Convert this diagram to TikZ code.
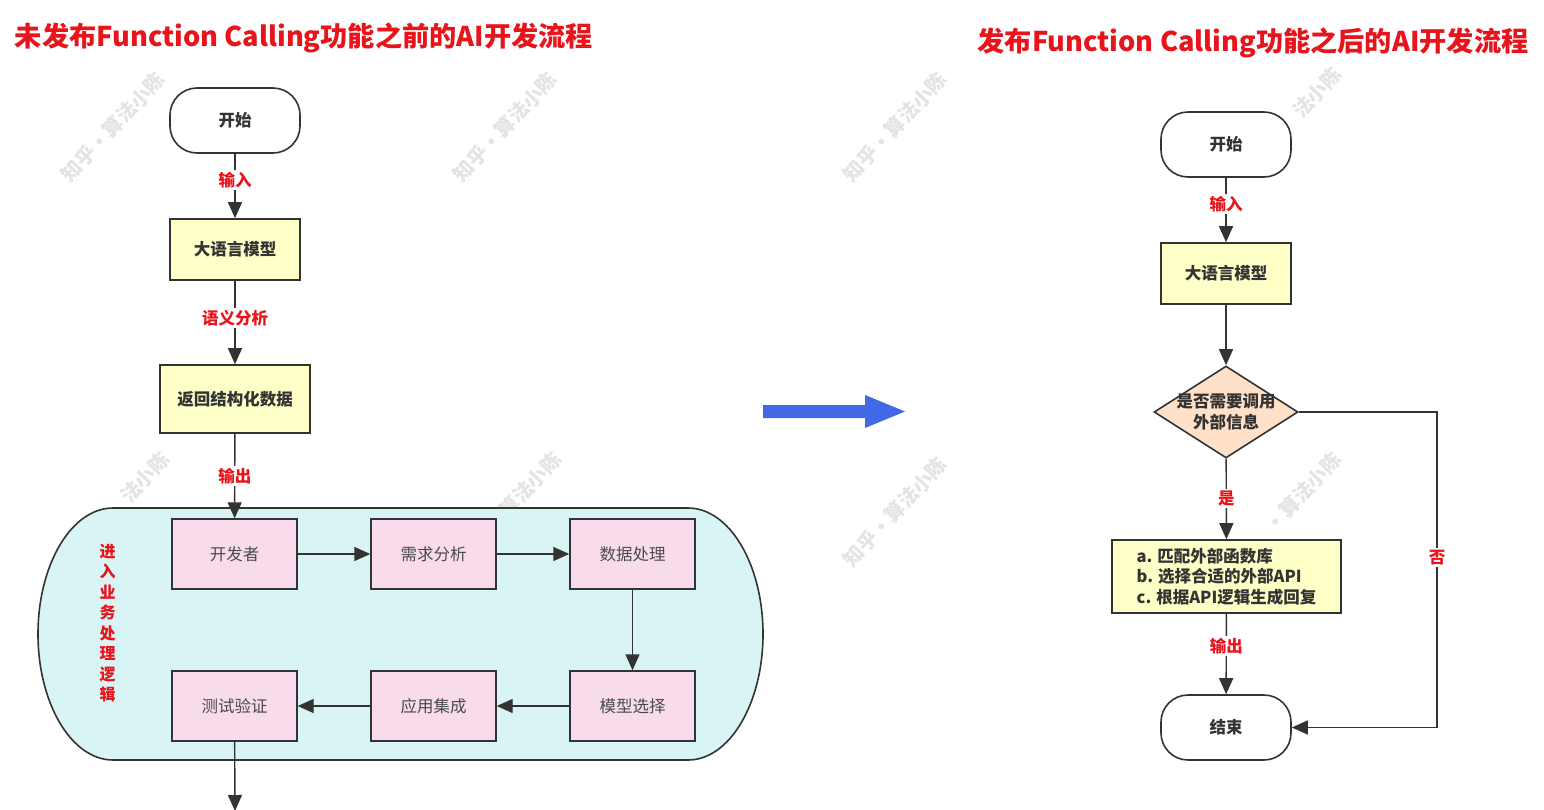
\documentclass[tikz,border=0pt]{standalone}
\usepackage{fontspec}
\setmainfont{Noto Sans CJK SC}
\usetikzlibrary{arrows.meta,shapes.geometric}
\definecolor{tred}{HTML}{E8141C}
\definecolor{lineC}{HTML}{333333}
\definecolor{textC}{HTML}{333333}
\definecolor{grayT}{HTML}{4A4A4A}
\definecolor{yellowC}{HTML}{FFFFC8}
\definecolor{pinkC}{HTML}{F9DCEB}
\definecolor{cyanC}{HTML}{D9F4F4}
\definecolor{peachC}{HTML}{FFE0C9}
\definecolor{blueC}{HTML}{4169E6}
\definecolor{wmC}{HTML}{E4E4E4}
\newcommand{\fsn}{\fontsize{16.5}{20.5}\selectfont}
\begin{document}
\begin{tikzpicture}[x=1pt,y=-1pt,
  term/.style={draw=lineC, line width=1.6pt, fill=white, rounded corners=27pt,
    minimum width=130pt, minimum height=65pt, inner sep=0pt, font=\fsn\bfseries, text=textC},
  ybox/.style={draw=lineC, line width=1.6pt, fill=yellowC, inner sep=0pt,
    font=\fsn\bfseries, text=textC},
  pbox/.style={draw=lineC, line width=1.4pt, fill=pinkC, minimum width=125pt,
    minimum height=70pt, inner sep=0pt, font=\fsn, text=grayT},
  lab/.style={fill=white, text=tred, font=\fsn\bfseries, inner sep=2pt},
  arr/.style={draw=lineC, line width=1.4pt, -{Triangle[length=16pt,width=14pt]}},
  wm/.style={text=wmC, font=\fontsize{20}{20}\selectfont\bfseries, rotate=47, inner sep=0pt},
  ttl/.style={text=tred, font=\fontsize{27.2}{32}\selectfont\bfseries}
]
\useasboundingbox (0,0) rectangle (1544,809);
\fill[white] (0,0) rectangle (1544,809);

% watermarks (full ones, then the parts left visible by the shapes)
\foreach \wx/\wy [count=\i] in {113/127,505/127,895/127,895/512}
  \node[wm] (wm\i) at (\wx,\wy) {知乎·算法小陈};
\node[wm, anchor=east] (wm5) at (1337.5,70.7) {法小陈};
\node[wm, anchor=east] (wm6) at (165.5,455.7) {法小陈};
\node[wm, anchor=east] (wm7) at (557.5,455.7) {算法小陈};
\node[wm, anchor=east] (wm8) at (1337.5,455.7) {·算法小陈};

% titles
\node[ttl] (t1) at (304,38) {未发布Function Calling功能之前的AI开发流程};
\node[ttl] (t2) at (1253,43) {发布Function Calling功能之后的AI开发流程};

% ---------- left flow ----------
\node[term] (ls) at (235,120.5) {开始};
\node[ybox, minimum width=130pt, minimum height=61pt] (lm) at (235,249.5) {大语言模型};
\node[ybox, minimum width=150pt, minimum height=68pt] (lr) at (235,399) {返回结构化数据};

% container
\draw[draw=lineC, line width=1.6pt, fill=cyanC]
  (113,508) -- (688,508) arc[start angle=90, end angle=-90, x radius=75pt, y radius=126pt]
  -- (113,760) arc[start angle=270, end angle=90, x radius=75pt, y radius=126pt] -- cycle;
\node[text=tred, font=\fontsize{16}{20.5}\selectfont\bfseries, align=center] (vt) at (107.5,623)
  {进\\入\\业\\务\\处\\理\\逻\\辑};

\node[pbox] (p1) at (234.5,554) {开发者};
\node[pbox] (p2) at (433.5,554) {需求分析};
\node[pbox] (p3) at (632.5,554) {数据处理};
\node[pbox] (p4) at (632.5,706) {模型选择};
\node[pbox] (p5) at (433.5,706) {应用集成};
\node[pbox] (p6) at (234.5,706) {测试验证};
\coordinate (lout) at (235,811);

\draw[arr] (ls) -- node[lab, pos=0.41] {输入} (lm);
\draw[arr] (lm) -- node[lab, pos=0.45] {语义分析} (lr);
\draw[arr] (lr) -- node[lab, pos=0.5] {输出} (p1);
\draw[arr] (p1) -- (p2);
\draw[arr] (p2) -- (p3);
\draw[arr] (p3) -- (p4);
\draw[arr] (p4) -- (p5);
\draw[arr] (p5) -- (p6);
\draw[arr] (p6) -- (lout);

% ---------- big arrow ----------
\fill[blueC] (763,405) -- (865,405) -- (865,395) -- (905,411.5) -- (865,428) -- (865,418) -- (763,418) -- cycle;

% ---------- right flow ----------
\node[term] (rs) at (1226,144.5) {开始};
\node[ybox, minimum width=130pt, minimum height=61pt] (rm) at (1226,273.5) {大语言模型};
\node[draw=lineC, line width=1.6pt, fill=peachC, shape=diamond, aspect=1.56,
  minimum width=144pt, minimum height=92pt, inner sep=0pt] (rd) at (1226,412) {};
\node[font=\fsn\bfseries, text=textC, align=center] (rdt) at (rd.center) {是否需要调用\\外部信息};
\node[ybox, minimum width=229pt, minimum height=73pt, align=left,
  font=\fontsize{16.5}{20.5}\selectfont\bfseries] (rb) at (1226.5,576.5)
  {a. 匹配外部函数库\\b. 选择合适的外部API\\c. 根据API逻辑生成回复};
\node[term] (re) at (1226,727.5) {结束};
\coordinate (n1) at (1437,412);
\coordinate (n2) at (1437,727.5);

\draw[arr] (rs) -- node[lab, pos=0.41] {输入} (rm);
\draw[arr] (rm) -- (rd);
\draw[arr] (rd) -- node[lab, pos=0.49] {是} (rb);
\draw[arr] (rb) -- node[lab, pos=0.4] {输出} (re);
\draw[arr] (rd.east) -- (n1) -- node[lab, pos=0.46] {否} (n2) -- (re.east);
\end{tikzpicture}
\end{document}
